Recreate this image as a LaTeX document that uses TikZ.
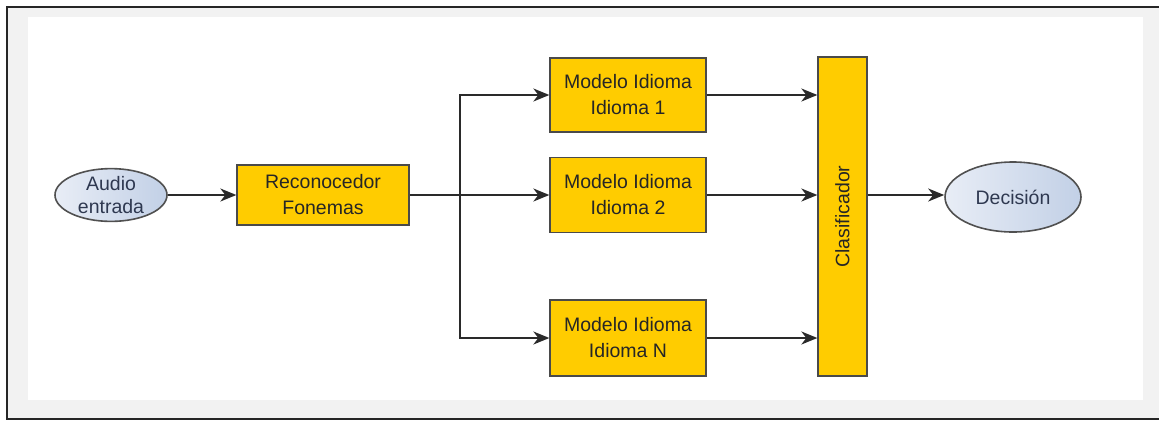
\documentclass[tikz,border=0pt]{standalone}
\usepackage{fontspec}
\setmainfont{Liberation Sans}
\usetikzlibrary{arrows.meta,shapes.geometric}
\definecolor{boxfill}{HTML}{FFCC00}
\definecolor{boxline}{HTML}{4A4A4A}
\definecolor{ellline}{HTML}{505050}
\definecolor{elltext}{HTML}{2E3850}
\definecolor{ellleft}{HTML}{E8EDF6}
\definecolor{ellright}{HTML}{C2D0E6}
\definecolor{frame}{HTML}{F2F2F2}
\definecolor{conn}{HTML}{2A2A2A}
\begin{document}
\begin{tikzpicture}[x=1pt,y=-1pt,
  box/.style={draw=boxline,line width=1.3pt,fill=boxfill,inner sep=0pt,align=center,
    font=\fontsize{19.5}{26}\selectfont,text=black!85},
  oval/.style={ellipse,draw=ellline,line width=1.6pt,left color=ellleft,right color=ellright,
    inner sep=0pt,align=center,text=elltext},
  conn/.style={draw=conn,line width=1.8pt},
  arr/.style={conn,-{Stealth[length=16pt,width=13pt,inset=5pt]}}]
\useasboundingbox (0,0) rectangle (1159,421);
\begin{scope}
\clip (0,0) rectangle (1159,421);
\fill[frame] (7,7) rectangle (1175,419);
\draw[black!85,line width=2pt] (1175,7) -- (7,7) -- (7,419) -- (1175,419);
\fill[white] (28,17) rectangle (1143,400);
\end{scope}
% nodes
\node[oval,minimum width=112pt,minimum height=46pt,font=\fontsize{19.5}{23}\selectfont] (audio) at (111,195) {Audio\\entrada};
\node[box,minimum width=172pt,minimum height=60pt] (recon) at (323,195) {Reconocedor\\Fonemas};
\node[box,minimum width=156pt,minimum height=74pt] (m1) at (628,95) {Modelo Idioma\\Idioma 1};
\node[box,minimum width=156pt,minimum height=75pt] (m2) at (628,195) {Modelo Idioma\\Idioma 2};
\node[box,minimum width=156pt,minimum height=76pt] (mn) at (628,338) {Modelo Idioma\\Idioma N};
\node[box,minimum width=49pt,minimum height=319pt] (clas) at (842.5,216.5) {};
\node[rotate=90,font=\fontsize{19.5}{22}\selectfont,text=black!85] (clast) at (clas.center) {Clasificador};
\node[oval,minimum width=136pt,minimum height=70pt,font=\fontsize{19.5}{22}\selectfont] (dec) at (1013,197) {Decisión};
\coordinate (split) at (460,195);
% connectors
\draw[arr] (audio.east) -- (recon.west);
\draw[conn] (recon.east) -- (split);
\draw[arr] (split) |- (m1.west);
\draw[arr] (split) -- (m2.west);
\draw[arr] (split) |- (mn.west);
\draw[arr] (m1.east) -- (m1.east -| clas.west);
\draw[arr] (m2.east) -- (m2.east -| clas.west);
\draw[arr] (mn.east) -- (mn.east -| clas.west);
\draw[arr] (clas.east |- split) -- (dec.west |- split);
\end{tikzpicture}
\end{document}
